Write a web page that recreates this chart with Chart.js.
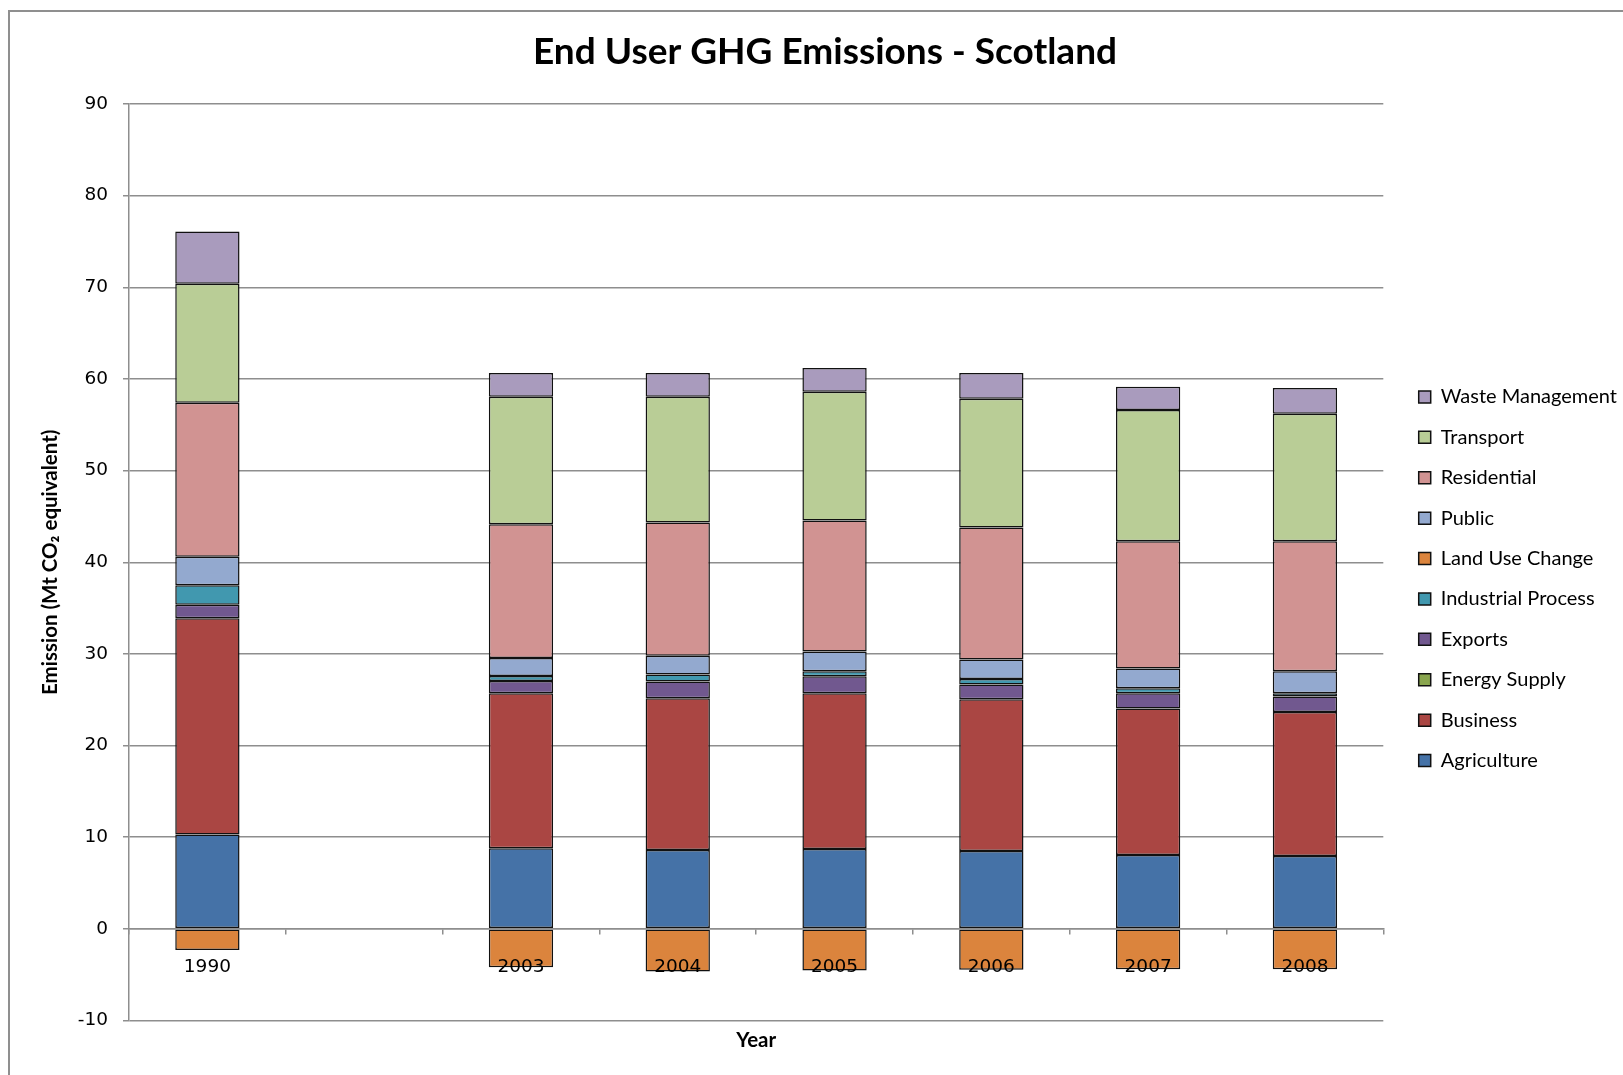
<!DOCTYPE html>
<html>
<head>
<meta charset="utf-8">
<title>End User GHG Emissions - Scotland</title>
<script src="https://cdn.jsdelivr.net/npm/chart.js@4.4.1/dist/chart.umd.min.js"></script>
<style>
  html, body { margin: 0; padding: 0; background: #fff; overflow: hidden; }
  #frame {
    position: absolute; left: 8px; top: 10px; width: 1800px; height: 1200px;
    border: 2px solid #8f8f8f; pointer-events: none;
  }
  #chart { position: absolute; left: 0; top: 0; }
</style>
</head>
<body>
<canvas id="chart" width="1650" height="1075"></canvas>
<div id="frame"></div>
<script>
// years on the x axis (one empty slot between 1990 and 2003)
const years = ['1990', '', '2003', '2004', '2005', '2006', '2007', '2008'];

// Mt CO2 equivalent
const agriculture       = [10.3, null, 8.8, 8.6, 8.7, 8.5, 8.05, 7.95];
const business          = [23.6, null, 16.9, 16.55, 17.0, 16.55, 16.0, 15.7];
const energySupply      = [0, null, 0, 0, 0, 0, 0, 0];
const exportsData       = [1.45, null, 1.35, 1.85, 1.85, 1.6, 1.65, 1.7];
const industrialProcess = [2.15, null, 0.55, 0.75, 0.55, 0.6, 0.55, 0.35];
const landUseChange     = [-2.3, null, -4.2, -4.65, -4.55, -4.45, -4.4, -4.4];
const publicSector      = [3.1, null, 1.95, 2.05, 2.15, 2.15, 2.15, 2.4];
const residential       = [16.8, null, 14.6, 14.55, 14.3, 14.4, 13.9, 14.2];
const transport         = [13.0, null, 13.9, 13.7, 14.05, 14.05, 14.3, 13.9];
const wasteManagement   = [5.7, null, 2.6, 2.6, 2.6, 2.8, 2.55, 2.8];

const yTicks = { min: -10, max: 90, step: 10 };

function series(label, data, color) {
  return {
    label: label,
    data: data,
    backgroundColor: color,
    borderColor: '#111',
    borderWidth: 1.5,
    borderSkipped: false,
    barPercentage: 0.41,
    categoryPercentage: 1
  };
}

const grey = '#8e8e8e';

var ctx = document.getElementById('chart');
new Chart(ctx, {
  type: 'bar',
  data: {
    labels: years,
    datasets: [
      series('Agriculture', agriculture, '#4572a7'),
      series('Business', business, '#aa4643'),
      series('Energy Supply', energySupply, '#89a54e'),
      series('Exports', exportsData, '#71588f'),
      series('Industrial Process', industrialProcess, '#4198af'),
      series('Land Use Change', landUseChange, '#db843d'),
      series('Public', publicSector, '#93a9cf'),
      series('Residential', residential, '#d19392'),
      series('Transport', transport, '#b9cd96'),
      series('Waste Management', wasteManagement, '#a99bbd')
    ]
  },
  options: {
    responsive: false,
    animation: false,
    layout: { padding: { left: 23, right: 23, top: 0, bottom: 22.7 } },
    plugins: {
      tooltip: { enabled: false },
      title: {
        display: true,
        text: 'End User GHG Emissions - Scotland',
        color: '#000',
        font: { family: 'Lato', size: 37, weight: 'bold', lineHeight: 1.2 },
        padding: { top: 30, bottom: 29.6 }
      },
      legend: {
        position: 'right',
        fullSize: false,
        reverse: true,
        title: { display: true, text: '', font: { size: 1, lineHeight: 1 }, padding: { top: 32, bottom: 0 } },
        labels: {
          color: '#000',
          font: { family: 'Lato', size: 20 },
          boxWidth: 12,
          boxHeight: 12,
          padding: 20.4
        }
      }
    },
    scales: {
      x: {
        stacked: true,
        position: { y: 0 },
        grid: { drawOnChartArea: false, offset: true, tickLength: 5, color: grey, lineWidth: 1.5 },
        border: { color: grey, width: 1.5, z: 1 },
        ticks: { z: 1, color: '#000', padding: 22, font: { family: 'DejaVu Sans', size: 18.5 }, maxRotation: 0, autoSkip: false }
      },
      x2: {
        position: 'bottom',
        labels: years,
        grid: { display: false, drawTicks: false },
        border: { display: false },
        ticks: { display: false },
        title: {
          display: true,
          text: 'Year',
          color: '#000',
          font: { family: 'Lato', size: 20.5, weight: 'bold', lineHeight: 1.2 },
          padding: { top: 7.2, bottom: 0 }
        }
      },
      y: {
        stacked: true,
        min: yTicks.min,
        max: yTicks.max,
        ticks: { stepSize: yTicks.step, color: '#000', padding: 15, font: { family: 'DejaVu Sans', size: 18.5 } },
        grid: { color: grey, lineWidth: 1.5, tickLength: 6 },
        border: { color: grey, width: 1.5 },
        title: {
          display: true,
          text: 'Emission (Mt CO\u2082 equivalent)',
          color: '#000',
          font: { family: 'Lato', size: 20.5, weight: 'bold', lineHeight: 1.2 },
          padding: { top: 15, bottom: 0 }
        },
        afterFit: function(scale) { scale.width = 106; }
      },
      gap: {
        type: 'linear',
        position: 'right',
        grid: { display: false, drawTicks: false },
        border: { display: false },
        ticks: { display: false },
        afterFit: function(scale) { scale.width = 15; }
      }
    }
  }
});
</script>
</body>
</html>
